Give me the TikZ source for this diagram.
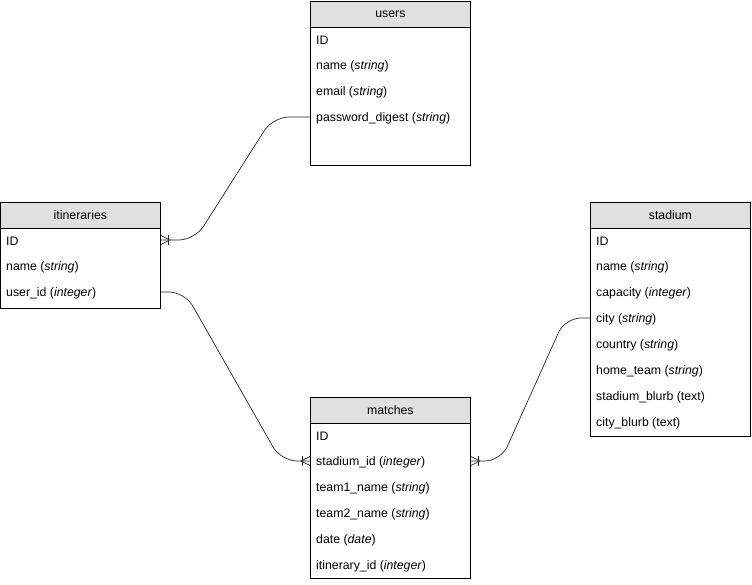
\documentclass[tikz,border=0pt]{standalone}
\usepackage{fontspec}
\setmainfont{Liberation Sans}
\usetikzlibrary{calc}
\begin{document}
\begin{tikzpicture}[x=1pt,y=-1pt,
  hdr/.style={draw=black,fill=hdrgray,minimum width=160pt,minimum height=26pt,inner sep=0pt,anchor=north west,font=\fontsize{12.3}{14}\selectfont,line width=0.8pt},
  body/.style={draw=black,fill=white,minimum width=160pt,inner sep=0pt,anchor=north west,line width=0.8pt},
  row/.style={anchor=west,inner sep=0pt,font=\fontsize{12.3}{14}\selectfont},
  conn/.style={draw=black!85,line width=0.7pt,rounded corners=16pt}]
\definecolor{hdrgray}{HTML}{E0E0E0}
\useasboundingbox (0,0) rectangle (752,585);
\fill[white] (0,0) rectangle (752,585);

% users
\node[body,minimum height=139pt] (usersB) at (310,26) {};
\node[hdr] (usersH) at (310,1) {users};
\node[row] (uID) at (316,40) {ID};
\node[row] (uName) at (316,66) {name (\textit{string})};
\node[row] (uEmail) at (316,92) {email (\textit{string})};
\node[row] (uPw) at (316,118) {password\_digest (\textit{string})};

% itineraries
\node[body,minimum height=81pt] (itB) at (0,227) {};
\node[hdr] (itH) at (0,202) {itineraries};
\node[row] (iID) at (6,241) {ID};
\node[row] (iName) at (6,267) {name (\textit{string})};
\node[row] (iUser) at (6,293) {user\_id (\textit{integer})};

% stadium
\node[body,minimum height=209pt] (stB) at (590,227) {};
\node[hdr] (stH) at (590,202) {stadium};
\node[row] (sID) at (596,241) {ID};
\node[row] (sName) at (596,267) {name (\textit{string})};
\node[row] (sCap) at (596,293) {capacity (\textit{integer})};
\node[row] (sCity) at (596,319) {city (\textit{string})};
\node[row] (sCountry) at (596,345) {country (\textit{string})};
\node[row] (sHome) at (596,371) {home\_team (\textit{string})};
\node[row] (sSB) at (596,397) {stadium\_blurb (text)};
\node[row] (sCB) at (596,423) {city\_blurb (text)};

% matches
\node[body,minimum height=156pt] (maB) at (310,422) {};
\node[hdr] (maH) at (310,397) {matches};
\node[row] (mID) at (316,436) {ID};
\node[row] (mSt) at (316,462) {stadium\_id (\textit{integer})};
\node[row] (mT1) at (316,488) {team1\_name (\textit{string})};
\node[row] (mT2) at (316,514) {team2\_name (\textit{string})};
\node[row] (mDate) at (316,540) {date (\textit{date})};
\node[row] (mIt) at (316,566) {itinerary\_id (\textit{integer})};

% connection points
\coordinate (pUsers) at ($(usersB.west |- uPw)+(0,-1)$);
\coordinate (pItTop) at ($(itB.east |- iID)+(0,-1)$);
\coordinate (pItBot) at ($(itB.east |- iUser)+(0,-1)$);
\coordinate (pMaL) at ($(maB.west |- mSt)+(0,-1)$);
\coordinate (pMaR) at ($(maB.east |- mSt)+(0,-1)$);
\coordinate (pSt) at ($(stB.west |- sCity)+(0,-1)$);

% connectors
\draw[conn] (pUsers) -- ++(-37,0) -- ($(pItTop)+(34,0)$) -- (pItTop);
\draw[conn] (pItBot) -- ++(24,0) -- ($(pMaL)+(-29,0)$) -- (pMaL);
\draw[conn] (pSt) -- ++(-25,0) -- ($(pMaR)+(30,0)$) -- (pMaR);

% crow's feet
\begin{scope}[draw=black!85,line width=0.7pt]
\draw (pItTop) ++(0,-4.5) -- ++(9,4.5) -- ++(-9,4.5);
\draw (pItTop) ++(8,-5) -- ++(0,10);
\draw (pMaL) ++(0,-4.5) -- ++(-9,4.5) -- ++(9,4.5);
\draw (pMaL) ++(-8,-5) -- ++(0,10);
\draw (pMaR) ++(0,-4.5) -- ++(9,4.5) -- ++(-9,4.5);
\draw (pMaR) ++(8,-5) -- ++(0,10);
\end{scope}
\end{tikzpicture}
\end{document}
